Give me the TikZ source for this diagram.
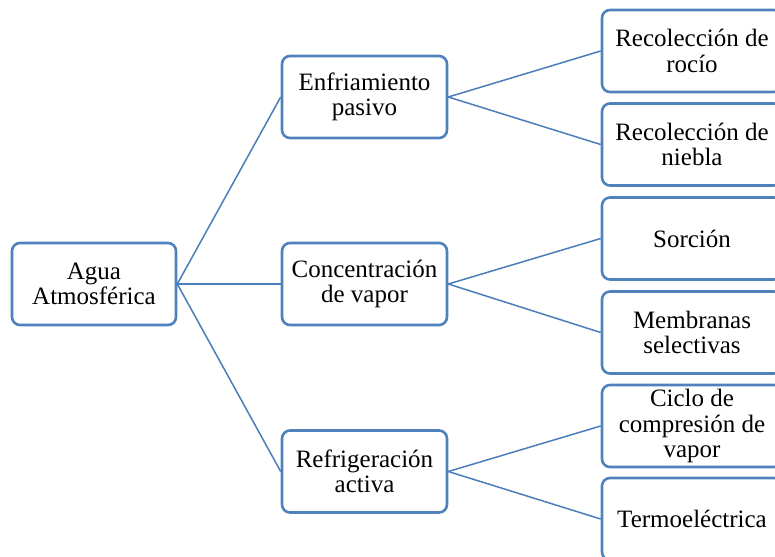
\documentclass[tikz,border=0pt]{standalone}
\usepackage{fontspec}
\setmainfont{Liberation Serif}
\definecolor{boxblue}{RGB}{79,129,189}
\definecolor{lineblue}{RGB}{74,126,187}
\begin{document}
\begin{tikzpicture}[x=1pt,y=-1pt,
  box/.style={draw=boxblue, line width=2.6pt, rounded corners=8pt, fill=white,
    align=center, inner sep=0pt, font=\fontsize{25}{25.5}\selectfont},
  midbox/.style={box, minimum width=165pt, minimum height=82pt},
  leafbox/.style={box, minimum width=180pt, minimum height=82pt},
  link/.style={draw=lineblue, line width=1.5pt}]
\useasboundingbox (0,0) rectangle (775,556);
\clip (0,0) rectangle (775,556);
\node[midbox, minimum width=164pt] (root) at (94,284) {Agua\\Atmosférica};
\node[midbox] (m1) at (364.5,97) {Enfriamiento\\pasivo};
\node[midbox] (m2) at (364.5,284) {Concentración\\de vapor};
\node[midbox] (m3) at (364.5,471.5) {Refrigeración\\activa};
\node[leafbox] (l1) at (692,51) {Recolección de\\rocío};
\node[leafbox] (l2) at (692,144.5) {Recolección de\\niebla};
\node[leafbox] (l3) at (692,238.5) {Sorción};
\node[leafbox] (l4) at (692,332.5) {Membranas\\selectivas};
\node[leafbox] (l5) at (692,426) {Ciclo de\\compresión de\\vapor};
\node[leafbox] (l6) at (692,519) {Termoeléctrica};
\draw[link] (root.east) -- (m1.west);
\draw[link] (root.east) -- (m2.west);
\draw[link] (root.east) -- (m3.west);
\draw[link] (m1.east) -- (l1.west);
\draw[link] (m1.east) -- (l2.west);
\draw[link] (m2.east) -- (l3.west);
\draw[link] (m2.east) -- (l4.west);
\draw[link] (m3.east) -- (l5.west);
\draw[link] (m3.east) -- (l6.west);
\end{tikzpicture}
\end{document}
